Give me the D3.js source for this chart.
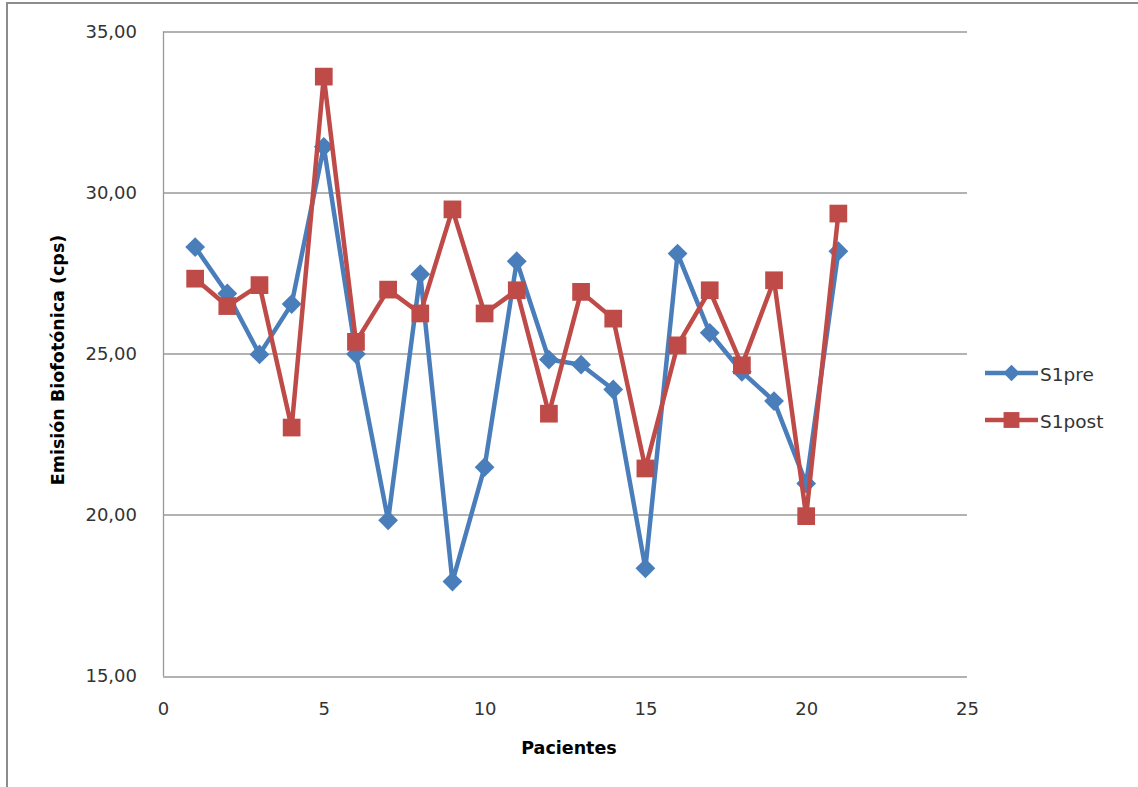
<!DOCTYPE html>
<html>
<head>
<meta charset="utf-8">
<script src="https://cdn.jsdelivr.net/npm/d3@7"></script>
<style>
  body { margin: 0; background: #fff; }
  svg { display: block; }
</style>
</head>
<body>
<div id="grafica"></div>
<script>
// datos
pacientes = [1, 2, 3, 4, 5, 6, 7, 8, 9, 10, 11, 12, 13, 14, 15, 16, 17, 18, 19, 20, 21]
s1pre  = [28.31, 26.87, 24.98, 26.54, 31.42, 24.99, 19.83, 27.47, 17.93, 21.48, 27.87,
          24.82, 24.66, 23.89, 18.34, 28.11, 25.65, 24.44, 23.53, 20.97, 28.18]
s1post = [27.33, 26.48, 27.13, 22.71, 33.60, 25.37, 26.99, 26.25, 29.48, 26.25, 26.97,
          23.14, 26.92, 26.09, 21.44, 25.26, 26.97, 24.64, 27.28, 19.96, 29.35]
xTicks = [0, 5, 10, 15, 20, 25]
yTicks = [15, 20, 25, 30, 35]

series = [
  { nombre: 'S1pre',  valores: s1pre,  color: '#4A7EBB', marca: d3.symbolDiamond2 },
  { nombre: 'S1post', valores: s1post, color: '#BE4B48', marca: d3.symbolSquare2 }
]

ancho_total = 1138
alto_total  = 787
margin = { left: 163, right: 171, top: 31.5, bottom: 111 }
ancho = ancho_total - margin.left - margin.right
alto  = alto_total - margin.top - margin.bottom

fuente = '"DejaVu Sans", sans-serif'

svg = d3.select('#grafica')
        .append('svg')
        .attr('width', ancho_total)
        .attr('height', alto_total)

// marco exterior (solo arriba e izquierda visibles)
svg.append('path')
   .attr('d', `M7,${alto_total} V3 H${ancho_total}`)
   .attr('fill', 'none')
   .attr('stroke', '#8c8c8c')
   .attr('stroke-width', 2)

g = svg.append('g')
       .attr('transform', `translate(${margin.left}, ${margin.top})`)

x = d3.scaleLinear().domain([0, 25]).range([0, ancho])
y = d3.scaleLinear().domain([15, 35]).range([alto, 0])

// lineas de cuadricula
g.selectAll('.grid')
  .data(yTicks)
  .enter()
  .append('line')
    .attr('x1', 0)
    .attr('x2', ancho)
    .attr('y1', (d) => Math.round(y(d)) + 0.5)
    .attr('y2', (d) => Math.round(y(d)) + 0.5)
    .attr('stroke', '#999')
    .attr('stroke-width', 1.3)

g.append('line')
  .attr('x1', 0.5).attr('x2', 0.5)
  .attr('y1', 0).attr('y2', alto)
  .attr('stroke', '#999')
  .attr('stroke-width', 1.3)

// ejes
yAxisCall = d3.axisLeft(y)
              .tickValues(yTicks)
              .tickSize(0)
              .tickPadding(26)
              .tickFormat((d) => d3.format('.2f')(d).replace('.', ','))
yGroup = g.append('g').call(yAxisCall)

xAxisCall = d3.axisBottom(x)
              .tickValues(xTicks)
              .tickSize(0)
              .tickPadding(26)
xGroup = g.append('g')
          .attr('transform', `translate(0, ${alto})`)
          .call(xAxisCall)

;[xGroup, yGroup].forEach((a) => {
  a.select('.domain').remove()
  a.selectAll('text')
    .attr('font-family', fuente)
    .attr('font-size', '18px')
    .attr('fill', '#333')
})

// titulos de ejes
g.append('text')
  .attr('x', 406)
  .attr('y', 722)
  .attr('text-anchor', 'middle')
  .attr('font-family', fuente)
  .attr('font-weight', 'bold')
  .attr('font-size', '17.5px')
  .text('Pacientes')

g.append('text')
  .attr('transform', `translate(${-99}, ${360 - margin.top}) rotate(-90)`)
  .attr('text-anchor', 'middle')
  .attr('font-family', fuente)
  .attr('font-weight', 'bold')
  .attr('font-size', '17.5px')
  .text('Emisión Biofotónica (cps)')

// series
linea = d3.line()
          .x((d, i) => x(pacientes[i]))
          .y((d) => y(d))

series.forEach((s) => {
  g.append('path')
    .datum(s.valores)
    .attr('d', linea)
    .attr('fill', 'none')
    .attr('stroke', s.color)
    .attr('stroke-width', 4.5)
    .attr('stroke-linejoin', 'round')

  g.selectAll('.m' + s.nombre)
    .data(s.valores)
    .enter()
    .append('path')
      .attr('transform', (d, i) => `translate(${x(pacientes[i])}, ${y(d)})`)
      .attr('d', d3.symbol().type(s.marca).size(s.nombre == 'S1pre' ? 250 : 400))
      .attr('fill', s.color)
})

// leyenda
leyenda = svg.append('g')
             .attr('transform', 'translate(985, 373)')

series.forEach((s, i) => {
  ren = leyenda.append('g')
               .attr('transform', `translate(0, ${i * 47})`)
  ren.append('line')
     .attr('x1', 0).attr('x2', 53)
     .attr('stroke', s.color)
     .attr('stroke-width', 4.5)
  ren.append('path')
     .attr('transform', 'translate(26.5, 0)')
     .attr('d', d3.symbol().type(s.marca).size(s.nombre == 'S1pre' ? 170 : 320))
     .attr('fill', s.color)
  ren.append('text')
     .attr('x', 55)
     .attr('y', 8)
     .attr('font-family', fuente)
     .attr('font-size', '18.5px')
     .attr('fill', '#333')
     .text(s.nombre)
})
</script>
</body>
</html>
